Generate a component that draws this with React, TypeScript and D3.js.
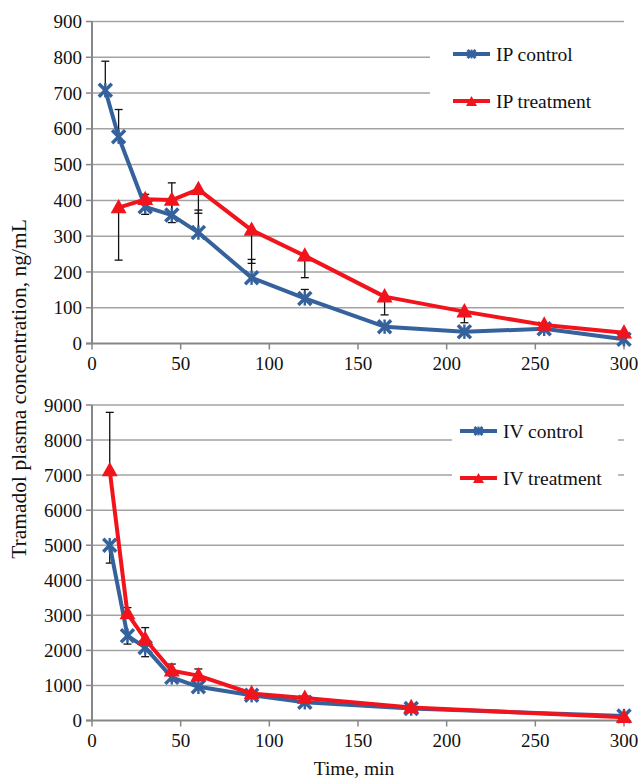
import React from "react";
import * as d3 from "d3";

// IP (intraperitoneal) data, ng/mL
const ipControlTime = [7.5, 15, 30, 45, 60, 90, 120, 165, 210, 255, 300];
const ipControl = [708, 578, 382, 359, 310, 184, 126, 47, 33, 41, 12];
const ipControlErr = [81, 76, 35, 90, 63, 51, 25, 0, 0, 0, 0]; // drawn upwards

const ipTreatTime = [15, 30, 45, 60, 90, 120, 165, 210, 255, 300];
const ipTreat = [380, 403, 401, 431, 317, 245, 131, 89, 52, 30];
const ipTreatErr = [147, 42, 63, 67, 93, 61, 51, 31, 0, 0]; // drawn downwards

// IV (intravenous) data, ng/mL
const ivTime = [10, 20, 30, 45, 60, 90, 120, 180, 300];
const ivControl = [5000, 2420, 2080, 1230, 960, 720, 520, 340, 130];
const ivControlErr = [510, 240, 260, 100, 80, 60, 70, 40, 0]; // drawn downwards
const ivTreat = [7130, 3050, 2320, 1420, 1280, 770, 640, 372, 90];
const ivTreatErr = [1660, 170, 330, 190, 190, 60, 60, 40, 0]; // drawn upwards

const xTicks = [0, 50, 100, 150, 200, 250, 300];
const ipTicks = d3.range(0, 901, 100);
const ivTicks = d3.range(0, 9001, 1000);

const BLUE = "#35629C";
const RED = "#F2141C";
const GRID = "#A3A3A3";
const AXIS = "#878787";
const FONT = "'Liberation Serif', 'Times New Roman', serif";

const x = d3.scaleLinear().domain([0, 300]).range([92, 624]);

function StarMarker({ cx, cy, r, w }) {
  return (
    <g stroke={BLUE} strokeWidth={w} strokeLinecap="butt">
      <line x1={cx - r} y1={cy - r} x2={cx + r} y2={cy + r} />
      <line x1={cx - r} y1={cy + r} x2={cx + r} y2={cy - r} />
      <line x1={cx} y1={cy - r * 1.1} x2={cx} y2={cy + r * 1.1} strokeWidth={w * 0.7} />
    </g>
  );
}

function TriMarker({ cx, cy, s }) {
  const h = s * 0.9;
  return (
    <path
      d={`M${cx},${cy - h * 0.6} L${cx + s / 2},${cy + h * 0.4} L${cx - s / 2},${cy + h * 0.4} Z`}
      fill={RED}
    />
  );
}

function Panel({ y, ticks, ctrlT, ctrl, ctrlErr, ctrlUp, trtT, trt, trtErr, labels, legendBox, legendX, legendY }) {
  const line = d3.line().x((d) => x(d[0])).y((d) => y(d[1]));
  const ctrlPts = ctrlT.map((t, i) => [t, ctrl[i]]);
  const trtPts = trtT.map((t, i) => [t, trt[i]]);
  const y0 = y(0);
  const errBar = (t, v, e, up, key) => {
    if (!e) return null;
    const yEnd = y(up ? v + e : v - e);
    return (
      <g key={key} stroke="#111" strokeWidth={1.3}>
        <line x1={x(t)} x2={x(t)} y1={y(v)} y2={yEnd} />
        <line x1={x(t) - 4} x2={x(t) + 4} y1={yEnd} y2={yEnd} />
      </g>
    );
  };
  return (
    <g>
      {ticks.slice(1).map((tk) => (
        <line key={tk} x1={x(0)} x2={x(300)} y1={y(tk)} y2={y(tk)} stroke={GRID} strokeWidth={1.5} />
      ))}
      <rect x={legendBox[0]} y={legendBox[1]} width={legendBox[2]} height={legendBox[3]} fill="#fff" />
      {/* axes */}
      <line x1={x(0)} x2={x(0)} y1={y(ticks[ticks.length - 1])} y2={y0} stroke={AXIS} strokeWidth={2} />
      <line x1={x(0) - 6} x2={x(300)} y1={y0} y2={y0} stroke={AXIS} strokeWidth={2} />
      {ticks.map((tk) => (
        <g key={tk}>
          <line x1={x(0) - 6} x2={x(0)} y1={y(tk)} y2={y(tk)} stroke={AXIS} strokeWidth={1.5} />
          <text x={82} y={y(tk)} dy="0.35em" textAnchor="end" fontSize={19} fontFamily={FONT} fill="#111">
            {tk}
          </text>
        </g>
      ))}
      {xTicks.map((tk) => (
        <g key={tk}>
          <line x1={x(tk)} x2={x(tk)} y1={y0} y2={y0 + 6} stroke={AXIS} strokeWidth={1.5} />
          <text x={x(tk)} y={y0 + 20} dy="0.35em" textAnchor="middle" fontSize={19} fontFamily={FONT} fill="#111">
            {tk}
          </text>
        </g>
      ))}
      {/* error bars */}
      {ctrlT.map((t, i) => errBar(t, ctrl[i], ctrlErr[i], ctrlUp, "c" + i))}
      {trtT.map((t, i) => errBar(t, trt[i], trtErr[i], !ctrlUp, "t" + i))}
      {/* series */}
      <path d={line(ctrlPts)} fill="none" stroke={BLUE} strokeWidth={4} strokeLinejoin="round" />
      {ctrlPts.map((p, i) => (
        <StarMarker key={i} cx={x(p[0])} cy={y(p[1])} r={6.5} w={3.5} />
      ))}
      <path d={line(trtPts)} fill="none" stroke={RED} strokeWidth={4} strokeLinejoin="round" />
      {trtPts.map((p, i) => (
        <TriMarker key={i} cx={x(p[0])} cy={y(p[1])} s={16} />
      ))}
      {/* legend */}
      {labels.map((lab, i) => {
        const ly = legendY[i];
        return (
          <g key={lab}>
            <line x1={legendX} x2={legendX + 37} y1={ly} y2={ly} stroke={i === 0 ? BLUE : RED} strokeWidth={4} />
            {i === 0 ? (
              <StarMarker cx={legendX + 18.5} cy={ly} r={4} w={3} />
            ) : (
              <TriMarker cx={legendX + 18.5} cy={ly + 1} s={11} />
            )}
            <text x={legendX + 43} y={ly} dy="0.35em" fontSize={19.5} fontFamily={FONT} fill="#111">
              {lab}
            </text>
          </g>
        );
      })}
    </g>
  );
}

export default function App() {
  const yIp = d3.scaleLinear().domain([0, 900]).range([343.5, 21.5]);
  const yIv = d3.scaleLinear().domain([0, 9000]).range([720.5, 405]);
  return (
    <svg width={641} height={780} style={{ position: "absolute", left: 0, top: 0, background: "#fff" }}>
      <rect width={641} height={780} fill="#fff" />
      <Panel
        y={yIp}
        ticks={ipTicks}
        ctrlT={ipControlTime}
        ctrl={ipControl}
        ctrlErr={ipControlErr}
        ctrlUp={true}
        trtT={ipTreatTime}
        trt={ipTreat}
        trtErr={ipTreatErr}
        labels={["IP control", "IP treatment"]}
        legendBox={[430, 24, 194, 103]}
        legendX={453}
        legendY={[54, 101]}
      />
      <Panel
        y={yIv}
        ticks={ivTicks}
        ctrlT={ivTime}
        ctrl={ivControl}
        ctrlErr={ivControlErr}
        ctrlUp={false}
        trtT={ivTime}
        trt={ivTreat}
        trtErr={ivTreatErr}
        labels={["IV control", "IV treatment"]}
        legendBox={[452, 410, 166, 95]}
        legendX={460}
        legendY={[431, 478]}
      />
      <text
        transform="translate(26,389) rotate(-90)"
        textAnchor="middle"
        fontSize={21.5}
        fontFamily={FONT}
        fill="#111"
      >
        Tramadol plasma concentration, ng/mL
      </text>
      <text x={354} y={775} textAnchor="middle" fontSize={19.5} fontFamily={FONT} fill="#111">
        Time, min
      </text>
    </svg>
  );
}
